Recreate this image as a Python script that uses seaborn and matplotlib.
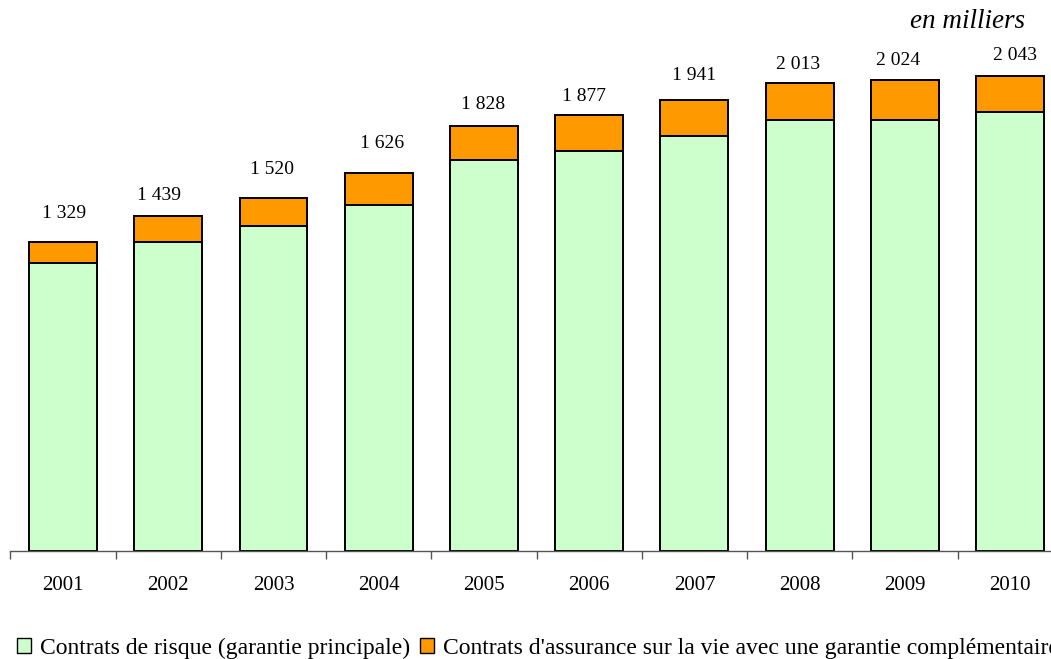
import matplotlib
matplotlib.use("Agg")
import matplotlib.pyplot as plt
import seaborn as sns
import pandas as pd
import numpy as np
from matplotlib.patches import Patch

years = ["2001", "2002", "2003", "2004", "2005", "2006", "2007", "2008", "2009", "2010"]
totals = [1329, 1439, 1520, 1626, 1828, 1877, 1941, 2013, 2024, 2043]
risque = [1239, 1329, 1398, 1488, 1682, 1720, 1785, 1854, 1854, 1888]

label_risque = "Contrats de risque (garantie principale)"
label_vie = "Contrats d'assurance sur la vie avec une garantie complémentaire"

# hand-placed value labels: pixel offsets from the top of each bar
label_dx = [1, -9, -2, 3, -1, -5, 0, -2, -7, 5]
label_dy = [29, 21, 28, 29, 21, 18, 24, 18, 20, 21]

sns.set_theme(style="white")
plt.rcParams["font.family"] = ["Liberation Serif", "DejaVu Serif"]
plt.rcParams["text.color"] = "black"
plt.rcParams["xtick.color"] = "black"
plt.rcParams["xtick.labelcolor"] = "black"

GREEN = "#CCFFCC"
ORANGE = "#FF9900"

df = pd.DataFrame({"annee": years, "total": totals, "risque": risque})

fig = plt.figure(figsize=(10.51, 6.59), dpi=100)
ax = fig.add_axes([10.4 / 1051, 1 - 551 / 659, 1052.4 / 1051, (551 - 30) / 659])

# stacked bars: full height in orange, lower part in green on top
sns.barplot(data=df, x="annee", y="total", color=ORANGE, width=0.646,
            edgecolor="black", linewidth=1.4, saturation=1, ax=ax)
sns.barplot(data=df, x="annee", y="risque", color=GREEN, width=0.646,
            edgecolor="black", linewidth=1.4, saturation=1, ax=ax)

ax.set_ylim(0, (551 - 30) / 0.2325)
ax.set_xlim(-0.5, len(years) - 0.5)

for i, t in enumerate(totals):
    s = f"{t:,}".replace(",", " ")
    ax.annotate(s, (i, t), xytext=(label_dx[i], label_dy[i]), textcoords="offset pixels",
                ha="center", va="center", fontsize=14, color="black")

for side in ["left", "right", "top"]:
    ax.spines[side].set_visible(False)
ax.spines["bottom"].set_color("#555555")
ax.spines["bottom"].set_linewidth(1.0)
ax.set_yticks([])
ax.set_xlabel("")
ax.set_ylabel("")
ax.set_xticks(np.arange(len(years)))
ax.set_xticklabels(years, fontsize=15, color="black")
ax.set_xticks(np.arange(-0.5, len(years) + 0.5, 1), minor=True)
ax.tick_params(axis="x", which="major", length=0, pad=18)
ax.tick_params(axis="x", which="minor", length=6, width=1.0, color="#555555",
               direction="out", bottom=True)

fig.text(1025 / 1051, 1 - 21 / 659, "en milliers", ha="right", va="center",
         fontsize=19.5, style="italic", color="black")

handles = [Patch(facecolor=GREEN, edgecolor="black", linewidth=1.0, label=label_risque),
           Patch(facecolor=ORANGE, edgecolor="black", linewidth=1.0, label=label_vie)]
leg = fig.legend(handles=handles, loc="center left", bbox_to_anchor=(10 / 1051, 1 - 648 / 659),
                 ncol=2, frameon=False, fontsize=17, handlelength=0.6, handleheight=0.6,
                 handletextpad=0.38, columnspacing=0.42, borderaxespad=0, borderpad=0.3)
for txt in leg.get_texts():
    txt.set_color("black")

fig.savefig("out.png", dpi=100)
